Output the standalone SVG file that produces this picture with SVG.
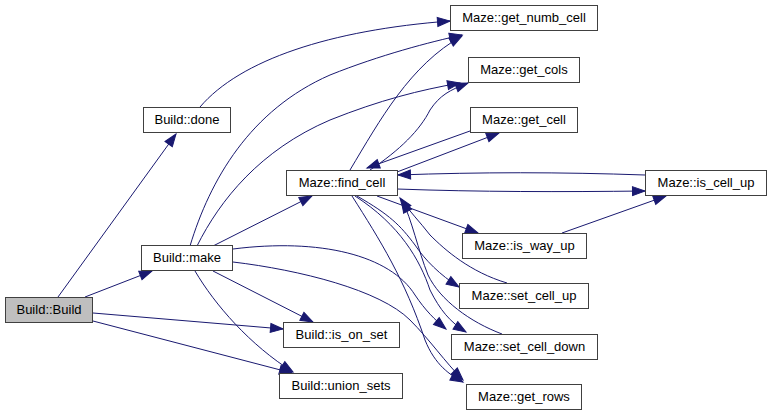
<svg xmlns="http://www.w3.org/2000/svg" width="771" height="416" viewBox="0 0 771 416">
<defs>
<style>
.n rect{fill:#ffffff;stroke:#404040;stroke-width:1}
.n.root rect{fill:#bfbfbf}
.n text{font-family:"Liberation Sans",Arial,Helvetica,sans-serif;font-size:13px;fill:#000000;text-anchor:middle}
.e path{fill:none;stroke:#191970;stroke-width:1;marker-end:url(#ah)}
</style>
<marker id="ah" markerWidth="14" markerHeight="10" refX="12.5" refY="4.5" orient="auto" markerUnits="userSpaceOnUse" overflow="visible">
<path d="M0,0 L12.5,4.5 L0,9 z" fill="#191970" stroke="#191970" stroke-width="1"/>
</marker>
</defs>
<rect width="771" height="416" fill="#ffffff"/>
<g id="edges" class="e">
<path d="M58,297 L176,134"/>
<path d="M85,297 L152,271"/>
<path d="M93,313 L283,329"/>
<path d="M93,321 L292,373"/>
<path d="M200,107 C240,60 330,30 450,21"/>
<path d="M190,246 C210,180 250,110 330,75 C380,55 430,42 462,35"/>
<path d="M197,246 C220,200 260,150 330,120 C380,100 420,90 460,83"/>
<path d="M213,246 L312,196"/>
<path d="M213,271 L313,322"/>
<path d="M195,271 C215,305 250,345 293,372"/>
<path d="M233,249 C320,238 390,255 415,295 C425,310 435,320 446,329"/>
<path d="M233,262 C300,270 380,290 410,320 C430,340 445,362 463,380"/>
<path d="M350,170 C380,120 410,65 462,36"/>
<path d="M370,170 C400,150 420,130 430,110 C440,95 450,90 468,83"/>
<path d="M470,131 L367,168"/>
<path d="M397,172 L499,133"/>
<path d="M397,189 C480,192 560,192 645,191"/>
<path d="M645,175 C560,172 480,172 398,175"/>
<path d="M562,233 L666,196"/>
<path d="M377,196 L478,233"/>
<path d="M507,283 C470,272 445,250 430,235 C420,222 410,212 400,198"/>
<path d="M502,334 C470,322 440,300 428,275 C418,250 412,220 402,200"/>
<path d="M357,196 C390,215 400,225 415,245 C425,260 440,275 459,287"/>
<path d="M355,196 C400,225 420,260 430,290 C440,310 450,322 466,332"/>
<path d="M352,196 C380,240 405,280 425,340 C435,365 450,375 463,382"/>
</g>
<g id="n_build_build" class="n root"><rect x="5.5" y="297.5" width="87" height="25"/><text x="49" y="314">Build::Build</text></g>
<g id="n_build_done" class="n"><rect x="143.5" y="107.5" width="87" height="25"/><text x="187" y="124">Build::done</text></g>
<g id="n_build_make" class="n"><rect x="141.5" y="245.5" width="91" height="25"/><text x="187" y="262">Build::make</text></g>
<g id="n_find_cell" class="n"><rect x="286.5" y="170.5" width="111" height="25"/><text x="342" y="187">Maze::find_cell</text></g>
<g id="n_is_on_set" class="n"><rect x="283.5" y="322.5" width="116" height="25"/><text x="341.5" y="339">Build::is_on_set</text></g>
<g id="n_union_sets" class="n"><rect x="279.5" y="373.5" width="123" height="25"/><text x="341" y="390">Build::union_sets</text></g>
<g id="n_get_numb_cell" class="n"><rect x="450.5" y="5.5" width="147" height="25"/><text x="524" y="22">Maze::get_numb_cell</text></g>
<g id="n_get_cols" class="n"><rect x="468.5" y="57.5" width="111" height="25"/><text x="524" y="74">Maze::get_cols</text></g>
<g id="n_get_cell" class="n"><rect x="470.5" y="107.5" width="107" height="25"/><text x="524" y="124">Maze::get_cell</text></g>
<g id="n_is_cell_up" class="n"><rect x="645.5" y="170.5" width="121" height="25"/><text x="706" y="187">Maze::is_cell_up</text></g>
<g id="n_is_way_up" class="n"><rect x="462.5" y="233.5" width="124" height="25"/><text x="524.5" y="250">Maze::is_way_up</text></g>
<g id="n_set_cell_up" class="n"><rect x="459.5" y="283.5" width="129" height="25"/><text x="524" y="300">Maze::set_cell_up</text></g>
<g id="n_set_cell_down" class="n"><rect x="451.5" y="334.5" width="146" height="25"/><text x="524.5" y="351">Maze::set_cell_down</text></g>
<g id="n_get_rows" class="n"><rect x="466.5" y="384.5" width="115" height="25"/><text x="524" y="401">Maze::get_rows</text></g>
</svg>
